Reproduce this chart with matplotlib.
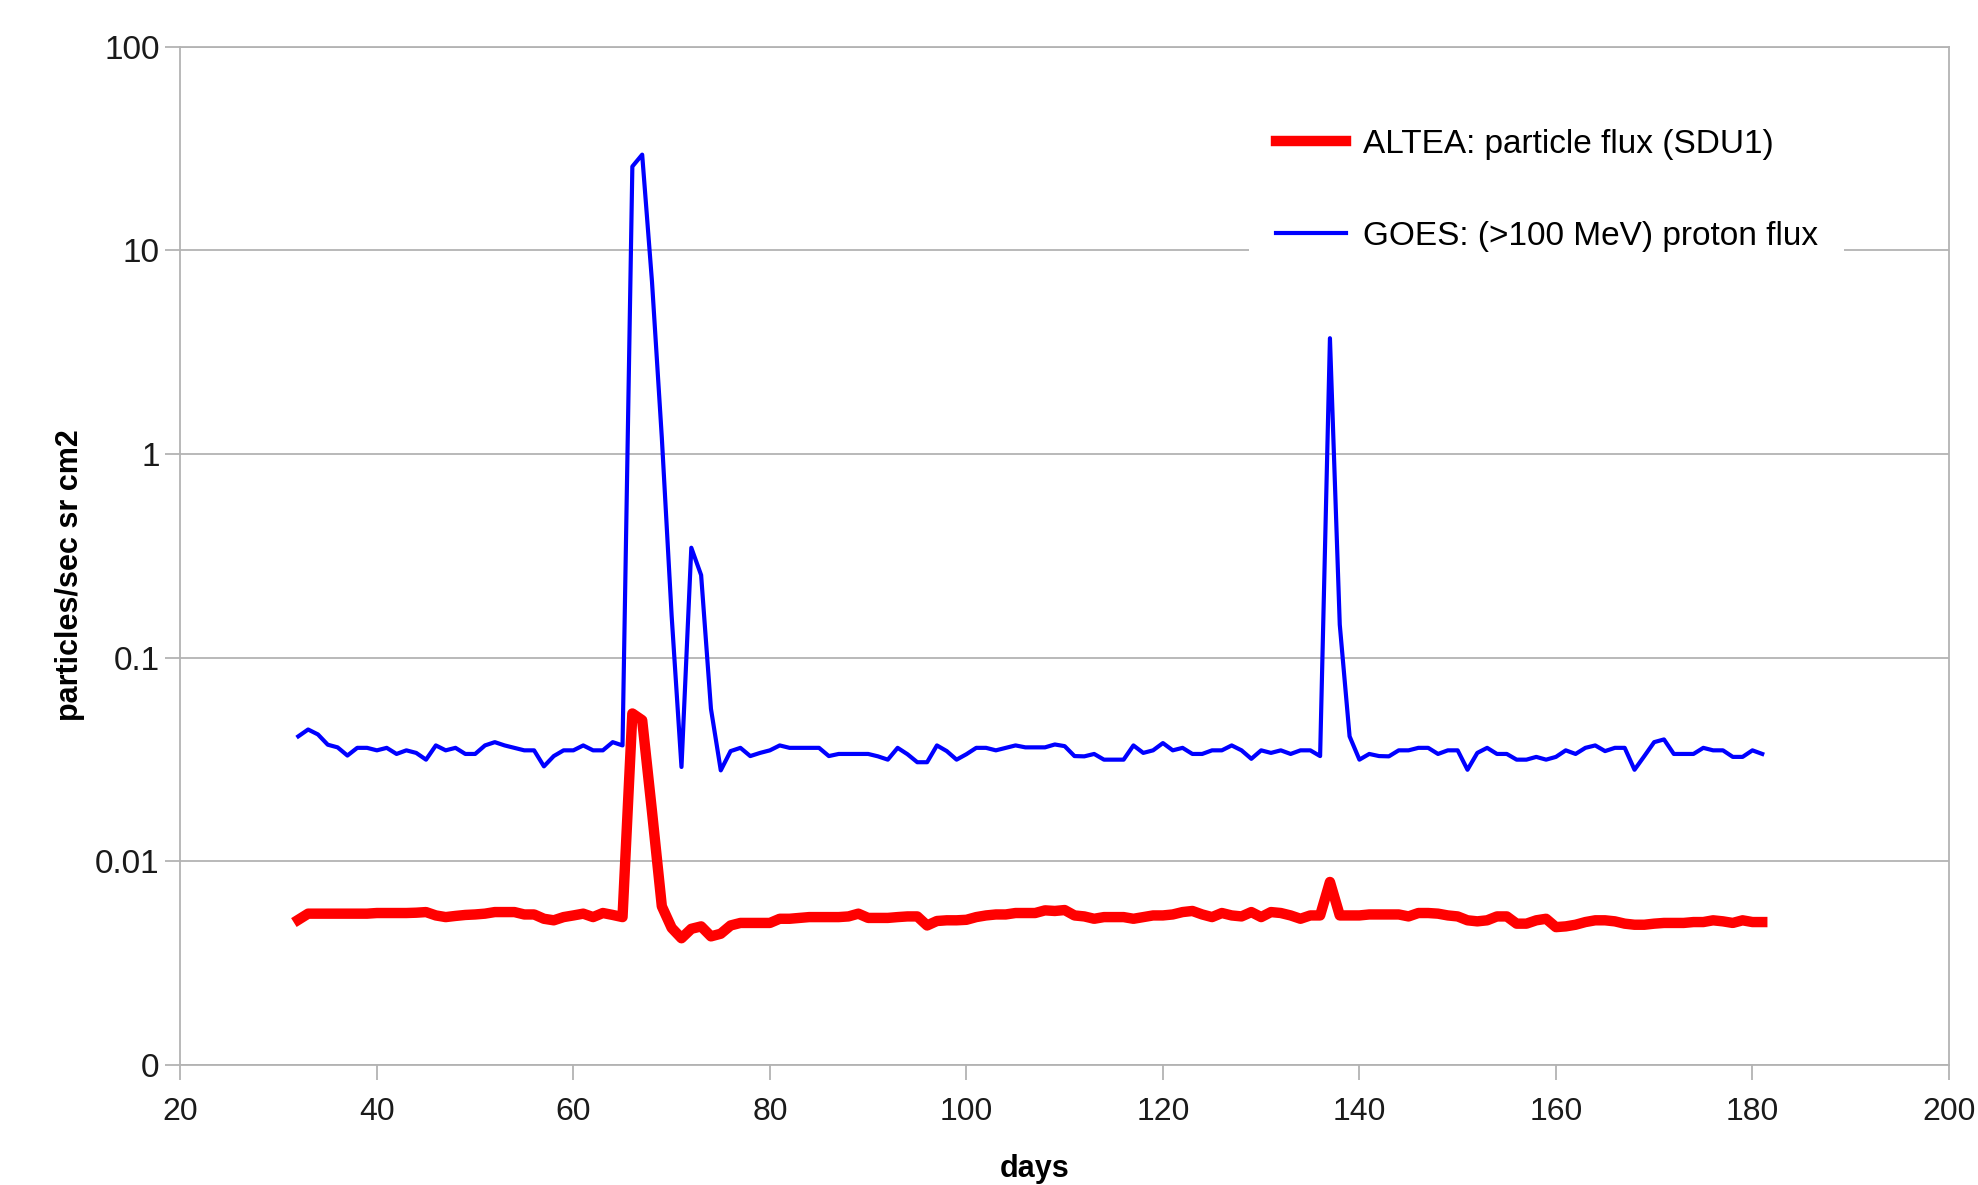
import numpy as np
import matplotlib.pyplot as plt
from matplotlib.ticker import FixedLocator, FixedFormatter, NullLocator

plt.rcParams["font.family"] = ["Liberation Sans", "DejaVu Sans"]

days = np.arange(32, 182)

# ALTEA particle flux (SDU1), particles/sec sr cm2
altea = [
    0.00515, 0.00552, 0.00552, 0.00552, 0.00552, 0.00552, 0.00552, 0.00552,
    0.00556, 0.00556, 0.00556, 0.00556, 0.00558, 0.00562, 0.00541, 0.00531,
    0.00538, 0.00544, 0.00547, 0.00552, 0.00562, 0.00562, 0.00562, 0.00547,
    0.00547, 0.00521, 0.00512, 0.00531, 0.00541, 0.00552, 0.00531, 0.00556,
    0.00544, 0.00531, 0.0531, 0.0492, 0.0175, 0.0060, 0.0047, 0.00418,
    0.00465, 0.00478, 0.00427, 0.00440, 0.00483, 0.00497, 0.00497, 0.00497,
    0.00497, 0.00521, 0.00521, 0.00526, 0.00531, 0.00531, 0.00531, 0.00531,
    0.00535, 0.00552, 0.00526, 0.00526, 0.00526, 0.00531, 0.00535, 0.00535,
    0.00483, 0.00508, 0.00512, 0.00512, 0.00515, 0.00531, 0.00541, 0.00547,
    0.00547, 0.00556, 0.00556, 0.00556, 0.00573, 0.00569, 0.00575, 0.00541,
    0.00535, 0.00521, 0.00531, 0.00531, 0.00531, 0.00521, 0.00531, 0.00541,
    0.00541, 0.00547, 0.00562, 0.00569, 0.00547, 0.00531, 0.00556, 0.00541,
    0.00535, 0.00562, 0.00531, 0.00562, 0.00556, 0.00541, 0.00521, 0.00541,
    0.00541, 0.0079, 0.00541, 0.00541, 0.00541, 0.00547, 0.00547, 0.00547,
    0.00547, 0.00535, 0.00556, 0.00556, 0.00552, 0.00541, 0.00535, 0.00512,
    0.00506, 0.00512, 0.00535, 0.00535, 0.00493, 0.00493, 0.00512, 0.00521,
    0.00474, 0.00478, 0.00487, 0.00502, 0.00512, 0.00512, 0.00506, 0.00493,
    0.00487, 0.00487, 0.00493, 0.00497, 0.00497, 0.00497, 0.00502, 0.00502,
    0.00512, 0.00506, 0.00497, 0.00512, 0.00502, 0.00502,
]

# GOES (>100 MeV) proton flux
goes = [
    0.041, 0.0443, 0.0419, 0.0373, 0.0362, 0.033, 0.036, 0.036,
    0.035, 0.036, 0.0336, 0.035, 0.034, 0.0315, 0.037, 0.035,
    0.036, 0.0336, 0.0336, 0.037, 0.0384, 0.037, 0.036, 0.035,
    0.035, 0.0292, 0.0328, 0.035, 0.035, 0.037, 0.035, 0.035,
    0.0384, 0.037, 25.8, 29.5, 7.0, 1.2, 0.16, 0.029,
    0.346, 0.254, 0.056, 0.0279, 0.0347, 0.036, 0.0328, 0.034,
    0.035, 0.037, 0.036, 0.036, 0.036, 0.036, 0.0328, 0.0336,
    0.0336, 0.0336, 0.0336, 0.0327, 0.0315, 0.036, 0.0335, 0.0306,
    0.0306, 0.037, 0.0347, 0.0315, 0.0335, 0.036, 0.036, 0.035,
    0.036, 0.037, 0.0362, 0.0362, 0.0362, 0.0374, 0.0367, 0.0328,
    0.0327, 0.0336, 0.0315, 0.0315, 0.0315, 0.037, 0.034, 0.035,
    0.038, 0.035, 0.036, 0.0336, 0.0336, 0.035, 0.035, 0.037,
    0.035, 0.0318, 0.035, 0.034, 0.035, 0.0336, 0.035, 0.035,
    0.0328, 3.7, 0.145, 0.041, 0.0315, 0.0336, 0.0328, 0.0327,
    0.035, 0.035, 0.036, 0.036, 0.0336, 0.035, 0.035, 0.0281,
    0.034, 0.036, 0.0336, 0.0336, 0.0315, 0.0315, 0.0325, 0.0315,
    0.0325, 0.035, 0.0336, 0.036, 0.037, 0.0347, 0.036, 0.036,
    0.0281, 0.0328, 0.0384, 0.0396, 0.0336, 0.0336, 0.0336, 0.036,
    0.035, 0.035, 0.0325, 0.0325, 0.035, 0.0336,
]

y_ticks = [0.001, 0.01, 0.1, 1, 10, 100]
y_labels = ["0", "0.01", "0.1", "1", "10", "100"]
x_ticks = [20, 40, 60, 80, 100, 120, 140, 160, 180, 200]

grid_c = "#b3b3b3"

fig = plt.figure(figsize=(19.78, 11.85), dpi=100)
ax = fig.add_axes([0.0912, 0.1015, 0.8941, 0.8591])

ax.plot(days, altea, color="#ff0000", lw=7.5, solid_joinstyle="round",
        label="ALTEA: particle flux (SDU1)", zorder=3)
ax.plot(days, goes, color="#0000ff", lw=3, solid_joinstyle="round",
        label="GOES: (>100 MeV) proton flux", zorder=4)

ax.set_yscale("log")
ax.set_ylim(0.001, 100)
ax.set_xlim(20, 200)
ax.yaxis.set_major_locator(FixedLocator(y_ticks))
ax.yaxis.set_major_formatter(FixedFormatter(y_labels))
ax.yaxis.set_minor_locator(NullLocator())
ax.set_xticks(x_ticks)
ax.set_xticklabels([str(v) for v in x_ticks])

ax.grid(axis="y", color=grid_c, lw=1.3)
ax.set_axisbelow(True)
for s in ax.spines.values():
    s.set_color(grid_c)
    s.set_linewidth(1.3)
ax.tick_params(axis="both", colors=grid_c, length=11, width=1.3,
               labelcolor="#1a1a1a")
ax.tick_params(axis="y", labelsize=24, pad=4)
ax.tick_params(axis="x", labelsize=23, pad=12)

ax.set_xlabel("days", fontsize=22, fontweight="bold")
ax.xaxis.set_label_coords(0.483, -0.088)
ax.set_ylabel("particles/sec sr cm2", fontsize=22, fontweight="bold")
ax.yaxis.set_label_coords(-0.054, 0.481)

leg = ax.legend(loc="upper left", bbox_to_anchor=(0.595, 0.962), fontsize=24,
                frameon=True, fancybox=False, edgecolor="none", facecolor="white",
                framealpha=1, handlelength=2.1, handletextpad=0.5,
                labelspacing=1.83, borderpad=0.8)

fig.savefig("out.png", dpi=100)
